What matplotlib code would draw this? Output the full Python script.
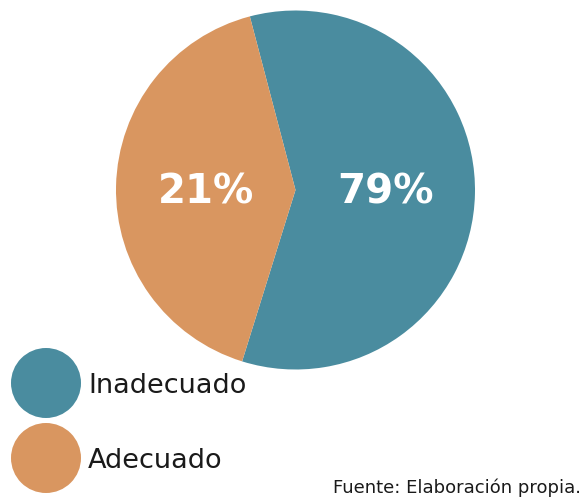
import matplotlib
matplotlib.use("Agg")
import matplotlib.pyplot as plt
from matplotlib.patches import Circle

# Data (slice sizes as drawn, and the printed labels)
categories = ["Inadecuado", "Adecuado"]
slice_sizes = [58.9, 41.1]
value_labels = ["79%", "21%"]
colors = ["#4a8c9f", "#d99660"]
source_text = "Fuente: Elaboración propia."

fig = plt.figure(figsize=(5.88, 5.00), dpi=100)
ax = fig.add_axes([0, 0, 1, 1])

wedges, texts = ax.pie(slice_sizes, labels=value_labels, colors=colors,
                       startangle=252.7, counterclock=True,
                       center=(295.5, 310), radius=179.5,
                       labeldistance=0.5, frame=True,
                       textprops=dict(color="white", fontsize=29, fontweight="bold",
                                      family="DejaVu Sans", ha="center", va="center"))
for t in texts:
    t.set_y(308)
ax.set_xlim(0, 588)
ax.set_ylim(0, 500)
ax.set_aspect("equal")
ax.axis("off")

legend_y = [117, 42]
for cat, col, y in zip(categories, colors, legend_y):
    ax.add_patch(Circle((46, y), 35, color=col, lw=0))
    ax.text(88, y - 3, cat, fontsize=19.5, color="#1a1a1a", va="center", ha="left",
            family="DejaVu Sans")

ax.text(333, 3, source_text, fontsize=13, color="#1a1a1a", ha="left", va="bottom",
        family="DejaVu Sans")

fig.savefig("out.png", dpi=100)
